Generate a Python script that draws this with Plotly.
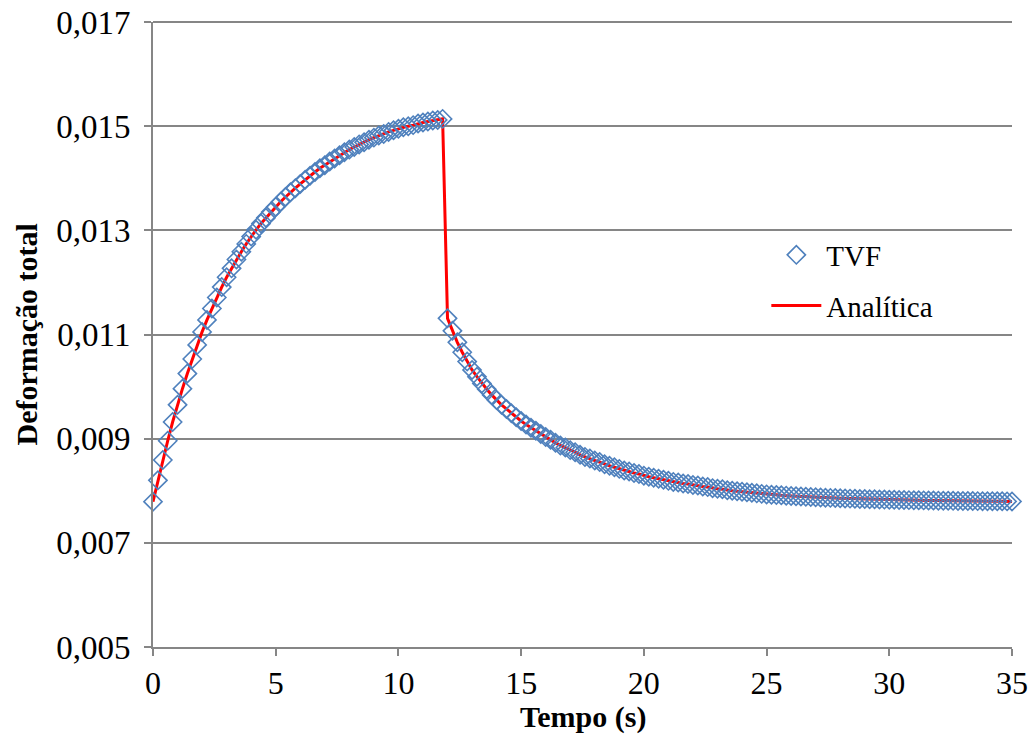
import plotly.graph_objects as go

# Time (s) - loading phase
tempo_carga = [0.0, 0.2, 0.4, 0.6, 0.8, 1.0, 1.2, 1.4, 1.6, 1.8,
               2.0, 2.2, 2.4, 2.6, 2.8, 3.0, 3.2, 3.4, 3.6, 3.8,
               4.0, 4.2, 4.4, 4.6, 4.8, 5.0, 5.2, 5.4, 5.6, 5.8,
               6.0, 6.2, 6.4, 6.6, 6.8, 7.0, 7.2, 7.4, 7.6, 7.8,
               8.0, 8.2, 8.4, 8.6, 8.8, 9.0, 9.2, 9.4, 9.6, 9.8,
               10.0, 10.2, 10.4, 10.6, 10.8, 11.0, 11.2, 11.4, 11.6, 11.8]
deform_carga = [0.00779, 0.00820, 0.00859, 0.00896, 0.00932, 0.00965,
                0.00996, 0.01025, 0.01053, 0.01080, 0.01105,
                0.01128, 0.01150, 0.01171, 0.01191, 0.01210,
                0.01227, 0.01244, 0.01259, 0.01274, 0.01288,
                0.01301, 0.01313, 0.01324, 0.01335, 0.01345,
                0.01355, 0.01364, 0.01373, 0.01381, 0.01389,
                0.01397, 0.01405, 0.01412, 0.01419, 0.01425,
                0.01432, 0.01438, 0.01444, 0.01450, 0.01455,
                0.01460, 0.01465, 0.01469, 0.01474, 0.01478,
                0.01482, 0.01485, 0.01489, 0.01492, 0.01495,
                0.01498, 0.01500, 0.01502, 0.01505, 0.01507,
                0.01509, 0.01511, 0.01512, 0.01514]

# Time (s) - unloading phase
tempo_descarga = [12.0, 12.2, 12.4, 12.6, 12.8, 13.0, 13.2, 13.4, 13.6, 13.8,
                  14.0, 14.2, 14.4, 14.6, 14.8, 15.0, 15.2, 15.4, 15.6, 15.8,
                  16.0, 16.2, 16.4, 16.6, 16.8, 17.0, 17.2, 17.4, 17.6, 17.8,
                  18.0, 18.2, 18.4, 18.6, 18.8, 19.0, 19.2, 19.4, 19.6, 19.8,
                  20.0, 20.2, 20.4, 20.6, 20.8, 21.0, 21.2, 21.4, 21.6, 21.8,
                  22.0, 22.2, 22.4, 22.6, 22.8, 23.0, 23.2, 23.4, 23.6, 23.8,
                  24.0, 24.2, 24.4, 24.6, 24.8, 25.0, 25.2, 25.4, 25.6, 25.8,
                  26.0, 26.2, 26.4, 26.6, 26.8, 27.0, 27.2, 27.4, 27.6, 27.8,
                  28.0, 28.2, 28.4, 28.6, 28.8, 29.0, 29.2, 29.4, 29.6, 29.8,
                  30.0, 30.2, 30.4, 30.6, 30.8, 31.0, 31.2, 31.4, 31.6, 31.8,
                  32.0, 32.2, 32.4, 32.6, 32.8, 33.0, 33.2, 33.4, 33.6, 33.8,
                  34.0, 34.2, 34.4, 34.6, 34.8, 35.0]
deform_descarga = [0.01131, 0.01107, 0.01085, 0.01066, 0.01048, 0.01032,
                   0.01019, 0.01006, 0.00995, 0.00984, 0.00974,
                   0.00965, 0.00957, 0.00949, 0.00941, 0.00934,
                   0.00927, 0.00921, 0.00915, 0.00909, 0.00903,
                   0.00898, 0.00892, 0.00887, 0.00883, 0.00878,
                   0.00874, 0.00869, 0.00865, 0.00862, 0.00858,
                   0.00855, 0.00851, 0.00848, 0.00845, 0.00842,
                   0.00839, 0.00837, 0.00834, 0.00832, 0.00829,
                   0.00827, 0.00825, 0.00823, 0.00821, 0.00819,
                   0.00817, 0.00816, 0.00814, 0.00813, 0.00811,
                   0.00810, 0.00808, 0.00807, 0.00805, 0.00804,
                   0.00803, 0.00801, 0.00800, 0.00799, 0.00798,
                   0.00797, 0.00796, 0.00795, 0.00794, 0.00793,
                   0.007924, 0.007918, 0.007912, 0.007906, 0.00790,
                   0.007895, 0.00789, 0.007885, 0.00788, 0.007875,
                   0.007871, 0.007867, 0.007863, 0.007859, 0.007855,
                   0.007852, 0.007849, 0.007846, 0.007843, 0.00784,
                   0.007838, 0.007835, 0.007833, 0.00783, 0.007828,
                   0.007826, 0.007824, 0.007822, 0.00782, 0.007818,
                   0.007816, 0.007815, 0.007813, 0.007812, 0.00781,
                   0.007809, 0.007808, 0.007806, 0.007805, 0.007804,
                   0.007803, 0.007802, 0.007801, 0.0078, 0.007799,
                   0.007798, 0.007797, 0.007797, 0.007796, 0.007795]

tempo = tempo_carga + tempo_descarga
tvf = deform_carga + deform_descarga
analitica = deform_carga + deform_descarga

x_ticks = [0, 5, 10, 15, 20, 25, 30, 35]
y_ticks = [0.005, 0.007, 0.009, 0.011, 0.013, 0.015, 0.017]

FONT = "Liberation Serif, Times New Roman, serif"
GRID = "#868686"

fig = go.Figure()
fig.add_trace(go.Scatter(
    x=tempo, y=analitica, mode="lines", name="Analítica",
    line=dict(color="#FF0000", width=3), legendrank=2, legendgroup="b",
))
fig.add_trace(go.Scatter(
    x=tempo, y=tvf, mode="markers", name="TVF",
    marker=dict(symbol="diamond-open", size=14, color="#4F81BD",
                line=dict(width=1.6, color="#4F81BD")),
    cliponaxis=False, legendrank=1, legendgroup="a",
))

fig.update_layout(
    width=1032, height=736,
    margin=dict(l=153, r=20, t=22, b=89),
    paper_bgcolor="white", plot_bgcolor="white",
    separators=",.",
    font=dict(family=FONT, size=32, color="black"),
    showlegend=True,
    legend=dict(x=0.714, y=0.668, xanchor="left", yanchor="top",
                bgcolor="rgba(0,0,0,0)", font=dict(size=29),
                tracegroupgap=10, itemwidth=50),
    xaxis=dict(range=[0, 35], tickvals=x_ticks, ticks="outside", ticklen=7,
               tickcolor=GRID, tickwidth=2, showgrid=False, zeroline=False,
               showline=True, linecolor=GRID, linewidth=2, automargin=False,
               ticklabeloverflow="allow", tickfont=dict(size=32)),
    yaxis=dict(range=[0.005, 0.017], tickvals=y_ticks, tickformat=".3f",
               ticks="outside", ticklen=7, tickcolor=GRID, tickwidth=2,
               showgrid=True, gridcolor=GRID, gridwidth=2, zeroline=False,
               showline=True, linecolor=GRID, linewidth=2, automargin=False,
               ticklabeloverflow="allow",
               ticklabelstandoff=7, tickfont=dict(size=33)),
    shapes=[
        # top grid line at the upper edge of the plot area
        dict(type="line", xref="paper", yref="paper", x0=0, x1=1, y0=1, y1=1,
             line=dict(color=GRID, width=2), layer="below"),
    ],
    annotations=[
        dict(text="<b>Tempo (s)</b>", xref="paper", yref="paper",
             x=0.5, y=-0.112, xanchor="center", yanchor="middle",
             showarrow=False, font=dict(size=30)),
        dict(text="<b>Deformação total</b>", xref="paper", yref="paper",
             x=-0.1467, y=0.5, xanchor="center", yanchor="middle",
             textangle=-90, showarrow=False, font=dict(size=30)),
    ],
)

fig.write_html(
    "out.html",
    config={"displayModeBar": False},
    post_script="document.body.style.margin='0';"
                "document.body.style.overflow='hidden';",
)
